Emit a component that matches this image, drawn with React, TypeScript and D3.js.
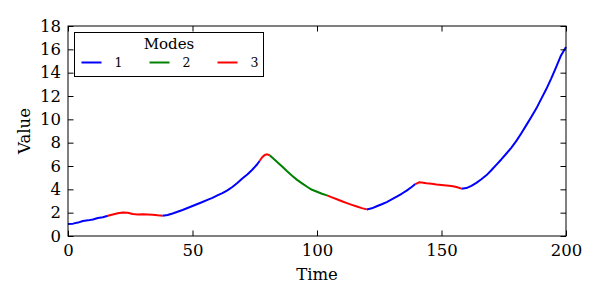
import React, { useEffect, useRef } from 'react';
import * as d3 from 'd3';

// time / value samples; mode = mode of the segment that starts at that point
const times = [
  0, 2, 4, 6, 8, 10, 12, 14, 16, 18, 20, 22, 24, 26, 28, 30, 32, 34, 36, 38,
  40, 42, 44, 46, 48, 50, 52, 54, 56, 58, 60, 62, 64, 66, 68, 70, 72, 74, 76, 77,
  78, 79, 80, 81, 82, 84, 86, 88, 90, 92, 94, 96, 98, 100, 102, 104, 106, 108, 110, 112,
  114, 116, 118, 120, 122, 124, 126, 128, 130, 132, 134, 136, 138, 139.5, 141, 142, 144, 146, 148, 150,
  152, 154, 156, 158, 160, 162, 164, 166, 168, 170, 172, 174, 176, 178, 180, 182, 184, 186, 188, 190,
  192, 194, 196, 198, 200
];
const values = [
  1.03, 1.06, 1.15, 1.29, 1.34, 1.42, 1.54, 1.61, 1.73, 1.85, 1.95, 2.01, 1.99, 1.89, 1.85, 1.87, 1.85, 1.82, 1.77, 1.73,
  1.8, 1.93, 2.08, 2.23, 2.4, 2.57, 2.74, 2.91, 3.09, 3.27, 3.48, 3.68, 3.91, 4.2, 4.55, 4.92, 5.27, 5.68, 6.15, 6.45,
  6.75, 6.95, 7.0, 6.92, 6.72, 6.35, 5.95, 5.55, 5.17, 4.81, 4.51, 4.22, 3.96, 3.79, 3.62, 3.48, 3.31, 3.15, 2.98, 2.82,
  2.67, 2.53, 2.39, 2.28, 2.37, 2.55, 2.72, 2.91, 3.14, 3.37, 3.62, 3.89, 4.2, 4.45, 4.6, 4.58, 4.52, 4.47, 4.41, 4.37,
  4.33, 4.28, 4.2, 4.06, 4.11, 4.29, 4.55, 4.86, 5.2, 5.64, 6.1, 6.56, 7.05, 7.56, 8.13, 8.79, 9.48, 10.18, 10.9, 11.73,
  12.55, 13.47, 14.45, 15.48, 16.2
];
const modes = [
  1, 1, 1, 1, 1, 1, 1, 1, 3, 3, 3, 3, 3, 3, 3, 3, 3, 3, 3, 1,
  1, 1, 1, 1, 1, 1, 1, 1, 1, 1, 1, 1, 1, 1, 1, 1, 1, 1, 1, 3,
  3, 3, 3, 2, 2, 2, 2, 2, 2, 2, 2, 2, 2, 2, 2, 3, 3, 3, 3, 3,
  3, 3, 3, 1, 1, 1, 1, 1, 1, 1, 1, 1, 1, 3, 3, 3, 3, 3, 3, 3,
  3, 3, 3, 1, 1, 1, 1, 1, 1, 1, 1, 1, 1, 1, 1, 1, 1, 1, 1, 1,
  1, 1, 1, 1, 1
];

const modeNames = ['1', '2', '3'];
const modeColors: Record<number, string> = { 1: '#0000ff', 2: '#008000', 3: '#ff0000' };
const xTicks = [0, 50, 100, 150, 200];
const yTicks = [0, 2, 4, 6, 8, 10, 12, 14, 16, 18];

const W = 600, H = 300;
const M = { left: 68, right: 34, top: 26, bottom: 64 };
const FONT = '"DejaVu Serif", serif';
const TICK = 5.5;

const App = () => {
  const ref = useRef<SVGSVGElement | null>(null);

  useEffect(() => {
    if (!ref.current) return;
    const svg = d3.select(ref.current);
    svg.selectAll('*').remove();

    const x = d3.scaleLinear().domain([0, 200]).range([M.left, W - M.right]);
    const y = d3.scaleLinear().domain([0, 18]).range([H - M.bottom, M.top]);

    svg.append('rect').attr('width', W).attr('height', H).attr('fill', 'white');

    // colored runs by mode
    const pts = times.map((t, i) => ({ t, v: values[i], m: modes[i] }));
    const runs: { m: number; p: typeof pts }[] = [];
    for (let i = 0; i < pts.length - 1; i++) {
      const last = runs[runs.length - 1];
      if (last && last.m === pts[i].m) last.p.push(pts[i + 1]);
      else runs.push({ m: pts[i].m, p: [pts[i], pts[i + 1]] });
    }
    const line = d3.line<{ t: number; v: number }>().x(d => x(d.t)).y(d => y(d.v));
    svg.append('g').selectAll('path').data(runs).enter().append('path')
      .attr('d', d => line(d.p))
      .attr('fill', 'none')
      .attr('stroke', d => modeColors[d.m])
      .attr('stroke-width', 2)
      .attr('stroke-linejoin', 'round');

    // axes with inward ticks on all sides
    const styleAxis = (g: any) => {
      g.select('.domain').remove();
      g.selectAll('line').attr('stroke', 'black').attr('stroke-width', 1);
      g.selectAll('text').attr('font-family', FONT).attr('font-size', 16.5).attr('fill', 'black');
    };
    svg.append('g').attr('transform', `translate(0,${H - M.bottom})`)
      .call(d3.axisBottom(x).tickValues(xTicks).tickSize(-TICK).tickPadding(8).tickFormat(d3.format('d')))
      .call(styleAxis);
    svg.append('g').attr('transform', `translate(0,${M.top})`)
      .call(d3.axisTop(x).tickValues(xTicks).tickSize(-TICK).tickFormat(() => ''))
      .call(styleAxis);
    svg.append('g').attr('transform', `translate(${M.left},0)`)
      .call(d3.axisLeft(y).tickValues(yTicks).tickSize(-TICK).tickPadding(7).tickFormat(d3.format('d')))
      .call(styleAxis);
    svg.append('g').attr('transform', `translate(${W - M.right},0)`)
      .call(d3.axisRight(y).tickValues(yTicks).tickSize(-TICK).tickFormat(() => ''))
      .call(styleAxis);

    svg.append('rect')
      .attr('x', M.left).attr('y', M.top)
      .attr('width', W - M.left - M.right).attr('height', H - M.top - M.bottom)
      .attr('fill', 'none').attr('stroke', 'black').attr('stroke-width', 1);

    svg.append('text').attr('x', (M.left + W - M.right) / 2).attr('y', 280)
      .attr('text-anchor', 'middle').attr('font-family', FONT).attr('font-size', 16.5)
      .text('Time');
    svg.append('text').attr('transform', `translate(30,${(M.top + H - M.bottom) / 2}) rotate(-90)`)
      .attr('text-anchor', 'middle').attr('font-family', FONT).attr('font-size', 16.5)
      .text('Value');

    // legend
    const lg = svg.append('g').attr('transform', 'translate(74.5,32.5)');
    lg.append('rect').attr('width', 189).attr('height', 44)
      .attr('fill', 'white').attr('stroke', 'black').attr('stroke-width', 1);
    lg.append('text').attr('x', 94.5).attr('y', 16).attr('text-anchor', 'middle')
      .attr('font-family', FONT).attr('font-size', 15).text('Modes');
    const items = lg.selectAll('.item').data(modeNames).enter().append('g')
      .attr('transform', (_d, i) => `translate(${7 + i * 68},30)`);
    items.append('line').attr('x1', 0).attr('x2', 20).attr('y1', 0).attr('y2', 0)
      .attr('stroke', (_d, i) => modeColors[i + 1]).attr('stroke-width', 2);
    items.append('text').attr('x', 33).attr('y', 4.5)
      .attr('font-family', FONT).attr('font-size', 12.5).text(d => d);
  }, []);

  return <svg ref={ref} width={W} height={H} style={{ display: 'block', margin: -8 }} />;
};

export default App;
